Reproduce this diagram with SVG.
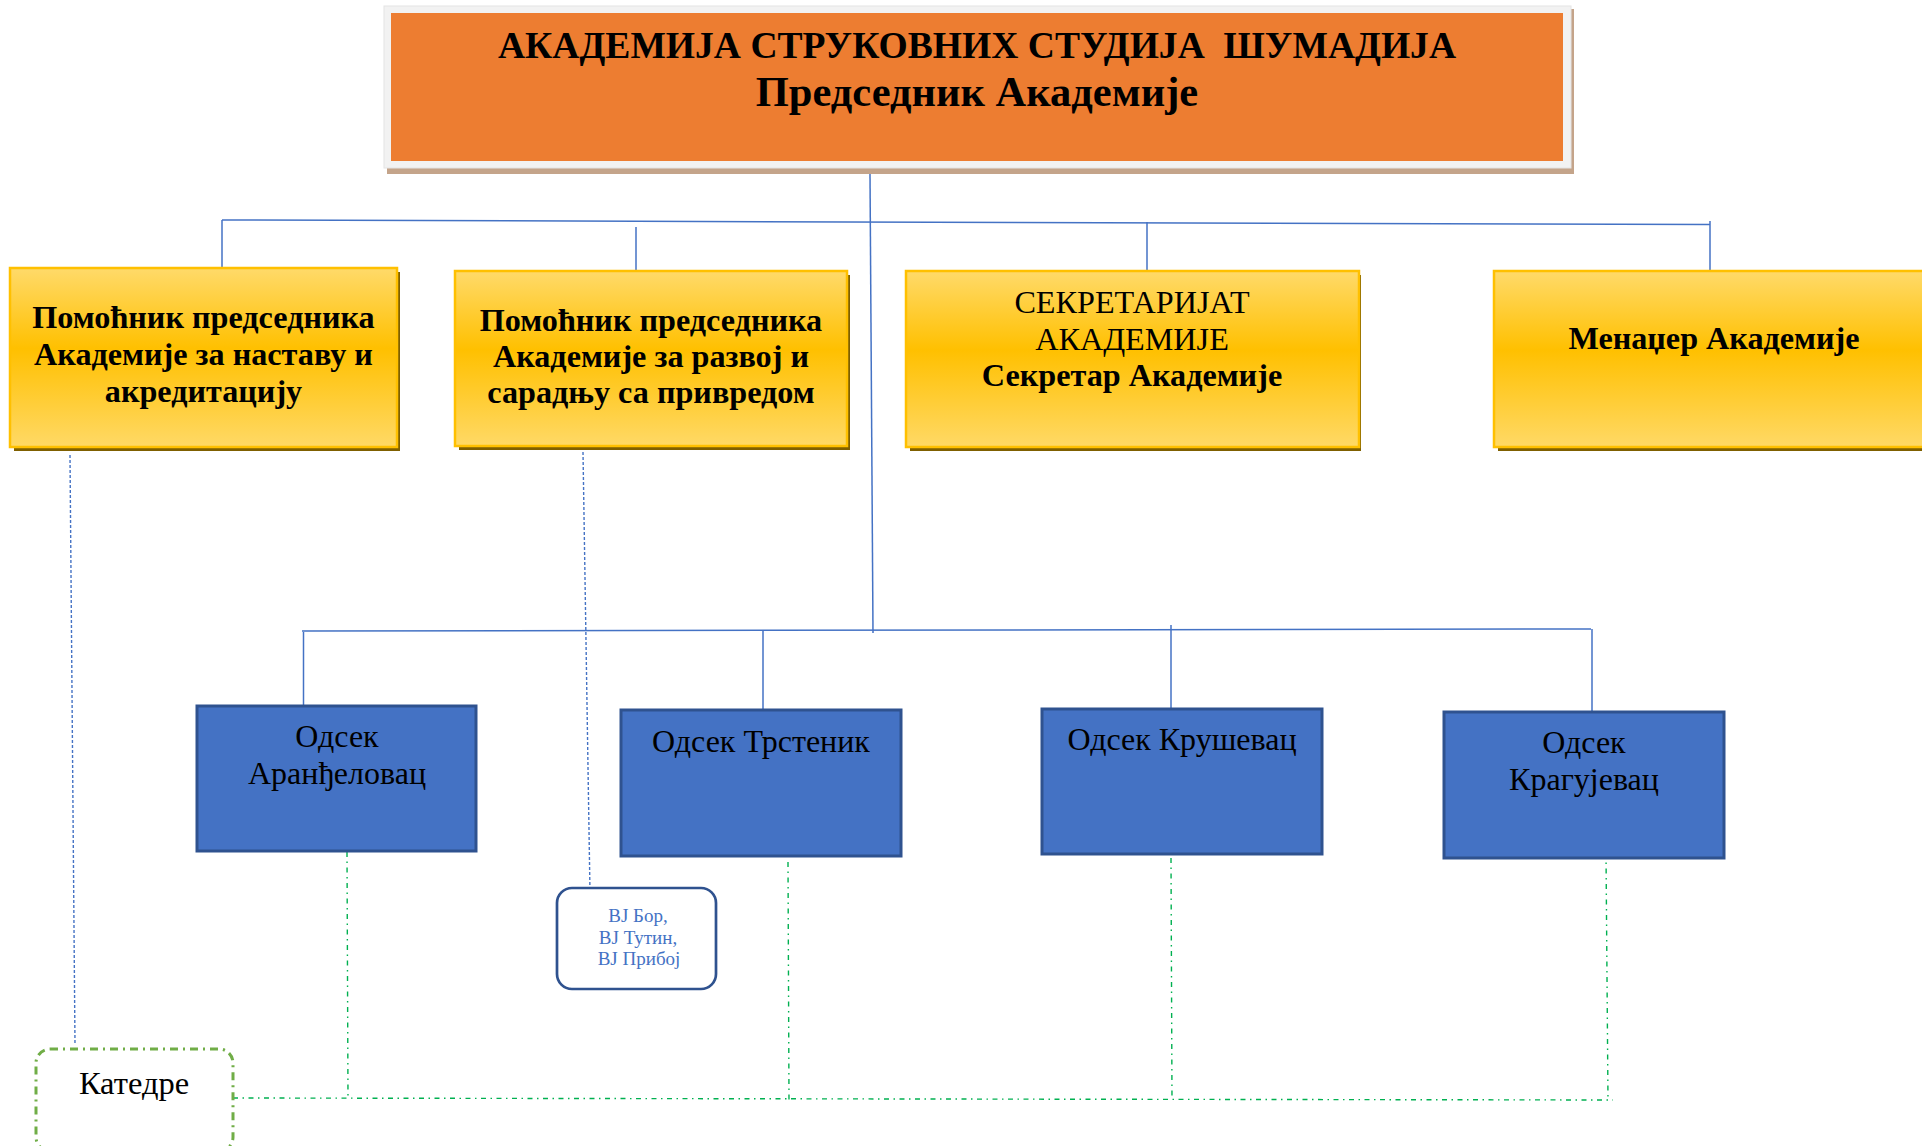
<svg xmlns="http://www.w3.org/2000/svg" width="1922" height="1146" viewBox="0 0 1922 1146">
<style>
text{font-family:"Liberation Serif","Times New Roman",serif;fill:#000;text-anchor:middle}
.b{font-weight:bold}
.t1{font-size:37.6px;font-weight:bold;white-space:pre}
.t2{font-size:42.5px;font-weight:bold}
.y{font-size:32.2px}
.d{font-size:32px}
.vj{font-size:19px;fill:#4472C4}
.ybox{fill:url(#yg);stroke:#FFC000;stroke-width:2.5}
.ysh{fill:#7F6000}
.bbox{fill:#4472C4;stroke:#2F528F;stroke-width:3}
.solid{stroke:#4472C4;stroke-width:1.5;fill:none}
.bdash{stroke:#4472C4;stroke-width:1.4;stroke-dasharray:3 2;fill:none}
.gdash{stroke:#00B050;stroke-width:1.4;stroke-dasharray:5 4.5 1.5 4.5;fill:none}
</style>
<defs>
<linearGradient id="yg" x1="0" y1="0" x2="0" y2="1">
<stop offset="0" stop-color="#FFDA6A"/>
<stop offset="0.45" stop-color="#FFC000"/>
<stop offset="1" stop-color="#FFD966"/>
</linearGradient>
</defs>
<rect width="1922" height="1146" fill="#fff"/>

<g id="connectors">
<line class="solid" x1="870" y1="174" x2="873" y2="633"/>
<line class="solid" x1="222" y1="220" x2="1710" y2="224.5"/>
<line class="solid" x1="222" y1="220" x2="222" y2="269"/>
<line class="solid" x1="636" y1="227" x2="636" y2="276"/>
<line class="solid" x1="1147" y1="222" x2="1147" y2="272"/>
<line class="solid" x1="1710" y1="221" x2="1710" y2="271"/>
<line class="solid" x1="302" y1="631" x2="1591" y2="629"/>
<line class="solid" x1="303.5" y1="632" x2="303.5" y2="706"/>
<line class="solid" x1="763" y1="630" x2="763" y2="710"/>
<line class="solid" x1="1171" y1="625" x2="1171" y2="709"/>
<line class="solid" x1="1592" y1="629" x2="1592" y2="712"/>
<line class="bdash" x1="583" y1="452" x2="590" y2="893"/>
<line class="bdash" x1="70" y1="455" x2="75" y2="1045"/>
<line class="gdash" x1="233" y1="1098" x2="1613" y2="1100"/>
<line class="gdash" x1="347" y1="852" x2="348" y2="1098"/>
<line class="gdash" x1="788" y1="862" x2="789" y2="1100"/>
<line class="gdash" x1="1171" y1="858" x2="1172" y2="1100"/>
<line class="gdash" x1="1606" y1="853" x2="1608" y2="1100"/>
</g>

<g id="top">
<rect x="387" y="9" width="1187" height="165" fill="#C4A48A"/>
<rect x="384" y="6" width="1187" height="162" fill="#F2F2F2" stroke="#E4E4E4" stroke-width="1"/>
<rect x="391" y="13" width="1172" height="148" fill="#ED7D31"/>
<text class="t1" x="977" y="58" xml:space="preserve">АКАДЕМИЈА СТРУКОВНИХ СТУДИЈА  ШУМАДИЈА</text>
<text class="t2" x="977" y="106">Председник Академије</text>
</g>

<g id="asst-teaching">
<rect class="ysh" x="14" y="272" width="386" height="179"/>
<rect class="ybox" x="10" y="268" width="387" height="179"/>
<text class="y b" x="203.5" y="328">Помоћник председника</text>
<text class="y b" x="203.5" y="365">Академије за наставу и</text>
<text class="y b" x="203.5" y="402">акредитацију</text>
</g>

<g id="asst-development">
<rect class="ysh" x="459" y="275" width="391" height="175"/>
<rect class="ybox" x="455" y="271" width="392" height="175"/>
<text class="y b" x="651" y="331">Помоћник председника</text>
<text class="y b" x="651" y="367">Академије за развој и</text>
<text class="y b" x="651" y="403">сарадњу са привредом</text>
</g>

<g id="secretariat">
<rect class="ysh" x="910" y="275" width="451" height="176"/>
<rect class="ybox" x="906" y="271" width="453" height="176"/>
<text class="y" x="1132" y="313">СЕКРЕТАРИЈАТ</text>
<text class="y" x="1132" y="350">АКАДЕМИЈЕ</text>
<text class="y b" x="1132" y="386">Секретар Академије</text>
</g>

<g id="manager">
<rect class="ysh" x="1498" y="275" width="440" height="176"/>
<rect class="ybox" x="1494" y="271" width="440" height="176"/>
<text class="y b" x="1714" y="349">Менаџер Академије</text>
</g>

<g id="odsek-arandjelovac">
<rect class="bbox" x="197" y="706" width="279" height="145"/>
<text class="d" x="337" y="747">Одсек</text>
<text class="d" x="337" y="784">Аранђеловац</text>
</g>

<g id="odsek-trstenik">
<rect class="bbox" x="621" y="710" width="280" height="146"/>
<text class="d" x="761" y="752">Одсек Трстеник</text>
</g>

<g id="odsek-krusevac">
<rect class="bbox" x="1042" y="709" width="280" height="145"/>
<text class="d" x="1182" y="750">Одсек Крушевац</text>
</g>

<g id="odsek-kragujevac">
<rect class="bbox" x="1444" y="712" width="280" height="146"/>
<text class="d" x="1584" y="753">Одсек</text>
<text class="d" x="1584" y="790">Крагујевац</text>
</g>

<g id="vj">
<rect x="557" y="888" width="159" height="101" rx="15" ry="15" fill="#fff" stroke="#2F528F" stroke-width="2.7"/>
<text class="vj" x="638" y="922">ВЈ Бор,</text>
<text class="vj" x="638" y="944">ВЈ Тутин,</text>
<text class="vj" x="639" y="965">ВЈ Прибој</text>
</g>

<g id="katedre">
<rect x="36" y="1049" width="197" height="102" rx="14" ry="14" fill="#fff" stroke="#70AD47" stroke-width="3" stroke-dasharray="8 5 2 5"/>
<text class="d" x="134" y="1094" style="font-size:32.5px">Катедре</text>
</g>
</svg>
